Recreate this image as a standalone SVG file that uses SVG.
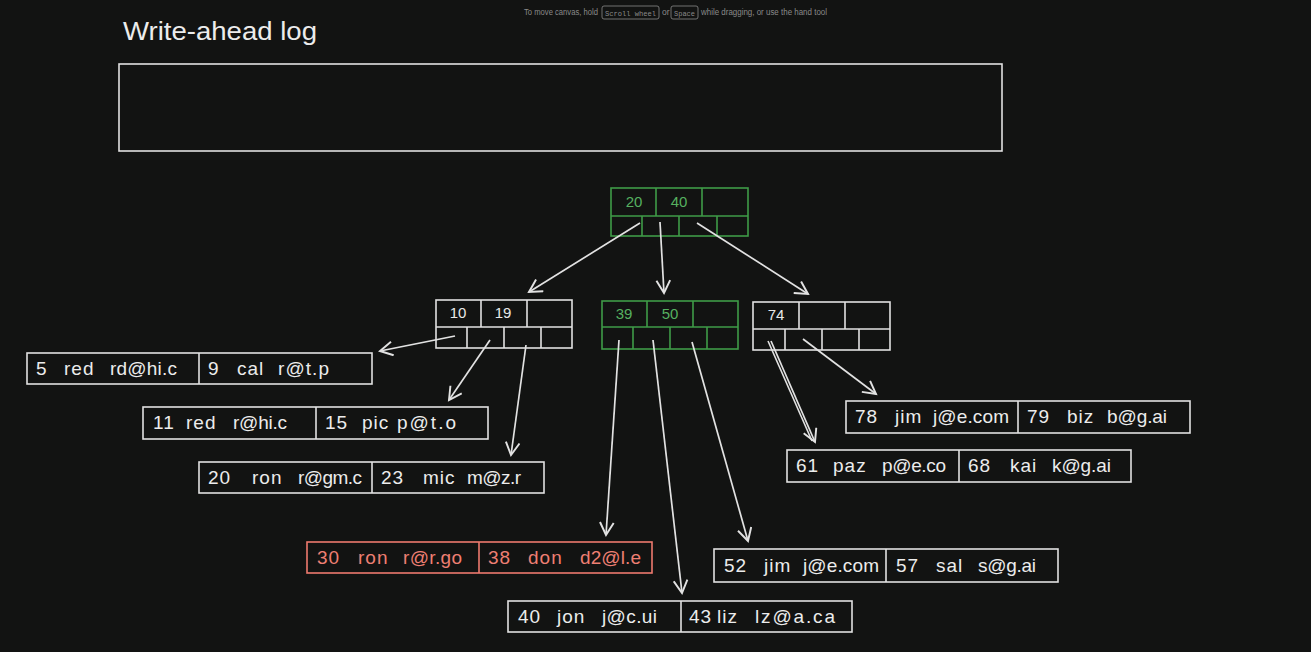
<svg xmlns="http://www.w3.org/2000/svg" width="1311" height="652" viewBox="0 0 1311 652">
<defs>
<style>
.bg{fill:#121312}
.w{fill:none;stroke:#e2e2e2;stroke-width:1.6}
.g{fill:none;stroke:#3f9c48;stroke-width:1.6}
.r{fill:none;stroke:#ee7a6e;stroke-width:1.6}
.k{font-family:"Liberation Sans",Arial,sans-serif;font-size:15px;text-anchor:middle}
.kw{fill:#e8e8e8}
.kg{fill:#56b060}
.t{font-family:"Liberation Sans",Arial,sans-serif;font-size:19px;fill:#ececec;letter-spacing:1px}
.tr{fill:#ee7f73}
.hint{font-family:"Liberation Sans",Arial,sans-serif;font-size:8.5px;fill:#8a8a8a}
.mono{font-family:"Liberation Mono",monospace;font-size:7.5px;fill:#8a8a8a}
.a{fill:none;stroke:#e2e2e2;stroke-width:1.7;marker-end:url(#ah)}
</style>
<marker id="ah" markerUnits="userSpaceOnUse" markerWidth="16" markerHeight="16" refX="12" refY="7" orient="auto" viewBox="0 0 14 14">
<path d="M1,1 L12,7 L1,13" fill="none" stroke="#e2e2e2" stroke-width="1.7"/>
</marker>
</defs>
<rect class="bg" x="0" y="0" width="1311" height="652"/>

<g id="hint">
<text class="hint" x="524" y="15" textLength="74" lengthAdjust="spacingAndGlyphs">To move canvas, hold</text>
<rect x="602" y="6" width="57" height="13" rx="2" fill="none" stroke="#8a8a8a" stroke-width="0.8"/>
<text class="mono" x="605" y="15.5" textLength="51" lengthAdjust="spacingAndGlyphs">Scroll wheel</text>
<text class="hint" x="662" y="15">or</text>
<rect x="671" y="6" width="27" height="13" rx="2" fill="none" stroke="#8a8a8a" stroke-width="0.8"/>
<text class="mono" x="674" y="15.5" textLength="21" lengthAdjust="spacingAndGlyphs">Space</text>
<text class="hint" x="701" y="15" textLength="126" lengthAdjust="spacingAndGlyphs">while dragging, or use the hand tool</text>
</g>

<g id="wal">
<text x="123" y="40" textLength="194" lengthAdjust="spacingAndGlyphs" style="font-family:'Liberation Sans',Arial,sans-serif;font-size:26px;fill:#ececec">Write-ahead log</text>
<rect class="w" x="119" y="64" width="883" height="87"/>
</g>

<g id="root">
<rect class="g" x="611" y="188" width="137" height="48"/>
<path class="g" d="M611,216 H748 M656,188 V216 M702,188 V216 M642,216 V236 M679,216 V236 M717,216 V236"/>
<text class="k kg" x="634" y="207">20</text>
<text class="k kg" x="679" y="207">40</text>
</g>

<g id="nodeA">
<rect class="w" x="436" y="300" width="136" height="48"/>
<path class="w" d="M436,327 H572 M481,300 V327 M527,300 V327 M467,327 V348 M504,327 V348 M541,327 V348"/>
<text class="k kw" x="458" y="318">10</text>
<text class="k kw" x="503" y="318">19</text>
</g>

<g id="nodeB">
<rect class="g" x="602" y="301" width="136" height="48"/>
<path class="g" d="M602,327 H738 M647,301 V327 M693,301 V327 M633,327 V349 M670,327 V349 M707,327 V349"/>
<text class="k kg" x="624" y="319">39</text>
<text class="k kg" x="670" y="319">50</text>
</g>

<g id="nodeC">
<rect class="w" x="753" y="302" width="137" height="48"/>
<path class="w" d="M753,329 H890 M799,302 V329 M845,302 V329 M785,329 V350 M822,329 V350 M859,329 V350"/>
<text class="k kw" x="776" y="320">74</text>
</g>

<g id="leaf1">
<rect class="w" x="27" y="353" width="345" height="31"/>
<path class="w" d="M199,353 V384"/>
<text class="t"><tspan x="36" y="375">5</tspan><tspan x="64" y="375">red</tspan><tspan x="110" y="375" textLength="68">rd@hi.c</tspan><tspan x="208" y="375">9</tspan><tspan x="237" y="375">cal</tspan><tspan x="278" y="375" textLength="52">r@t.p</tspan></text>
</g>

<g id="leaf2">
<rect class="w" x="143" y="407" width="345" height="32"/>
<path class="w" d="M316,407 V439"/>
<text class="t"><tspan x="153" y="429">11</tspan><tspan x="186" y="429">red</tspan><tspan x="233" y="429" textLength="55">r@hi.c</tspan><tspan x="325" y="429">15</tspan><tspan x="362" y="429">pic</tspan><tspan x="397" y="429" textLength="60">p@t.o</tspan></text>
</g>

<g id="leaf3">
<rect class="w" x="199" y="462" width="345" height="31"/>
<path class="w" d="M372,462 V493"/>
<text class="t"><tspan x="208" y="484">20</tspan><tspan x="252" y="484">ron</tspan><tspan x="298" y="484" textLength="65">r@gm.c</tspan><tspan x="381" y="484">23</tspan><tspan x="423" y="484">mic</tspan><tspan x="467" y="484" textLength="55">m@z.r</tspan></text>
</g>

<g id="leaf4">
<rect class="r" x="307" y="542" width="345" height="31"/>
<path class="r" d="M479,542 V573"/>
<text class="t tr"><tspan x="317" y="564">30</tspan><tspan x="358" y="564">ron</tspan><tspan x="403" y="564" textLength="60">r@r.go</tspan><tspan x="488" y="564">38</tspan><tspan x="528" y="564">don</tspan><tspan x="580" y="564" textLength="62">d2@l.e</tspan></text>
</g>

<g id="leaf5">
<rect class="w" x="508" y="601" width="344" height="31"/>
<path class="w" d="M681,601 V632"/>
<text class="t"><tspan x="518" y="623">40</tspan><tspan x="557" y="623">jon</tspan><tspan x="602" y="623" textLength="56">j@c.ui</tspan><tspan x="689" y="623">43</tspan><tspan x="717" y="623">liz</tspan><tspan x="755" y="623" textLength="81">lz@a.ca</tspan></text>
</g>

<g id="leaf6">
<rect class="w" x="714" y="549" width="344" height="33"/>
<path class="w" d="M886,549 V582"/>
<text class="t"><tspan x="724" y="572">52</tspan><tspan x="764" y="572">jim</tspan><tspan x="803" y="572" textLength="77">j@e.com</tspan><tspan x="896" y="572">57</tspan><tspan x="936" y="572">sal</tspan><tspan x="978" y="572" textLength="59">s@g.ai</tspan></text>
</g>

<g id="leaf7">
<rect class="w" x="846" y="401" width="344" height="32"/>
<path class="w" d="M1018,401 V433"/>
<text class="t"><tspan x="855" y="423">78</tspan><tspan x="895" y="423">jim</tspan><tspan x="933" y="423" textLength="77">j@e.com</tspan><tspan x="1027" y="423">79</tspan><tspan x="1067" y="423">biz</tspan><tspan x="1107" y="423" textLength="61">b@g.ai</tspan></text>
</g>

<g id="leaf8">
<rect class="w" x="787" y="450" width="344" height="32"/>
<path class="w" d="M959,450 V482"/>
<text class="t"><tspan x="796" y="472">61</tspan><tspan x="833" y="472">paz</tspan><tspan x="882" y="472" textLength="65">p@e.co</tspan><tspan x="968" y="472">68</tspan><tspan x="1010" y="472">kai</tspan><tspan x="1052" y="472" textLength="60">k@g.ai</tspan></text>
</g>

<g id="connectors">
<path class="a" d="M640,223 L529,292"/>
<path class="a" d="M660,222 L664,293"/>
<path class="a" d="M697,223 L808,294"/>
<path class="a" d="M455,336 L380,351"/>
<path class="a" d="M490,340 L449,400"/>
<path class="a" d="M526,345 L511,455"/>
<path class="a" d="M619,340 L606,535"/>
<path class="a" d="M653,340 L682,593"/>
<path class="a" d="M692,342 L748,541"/>
<path class="w" d="M768,341 L812,441"/>
<path class="a" d="M771,341 L815,442"/>
<path class="a" d="M803,339 L876,394"/>
</g>
</svg>
